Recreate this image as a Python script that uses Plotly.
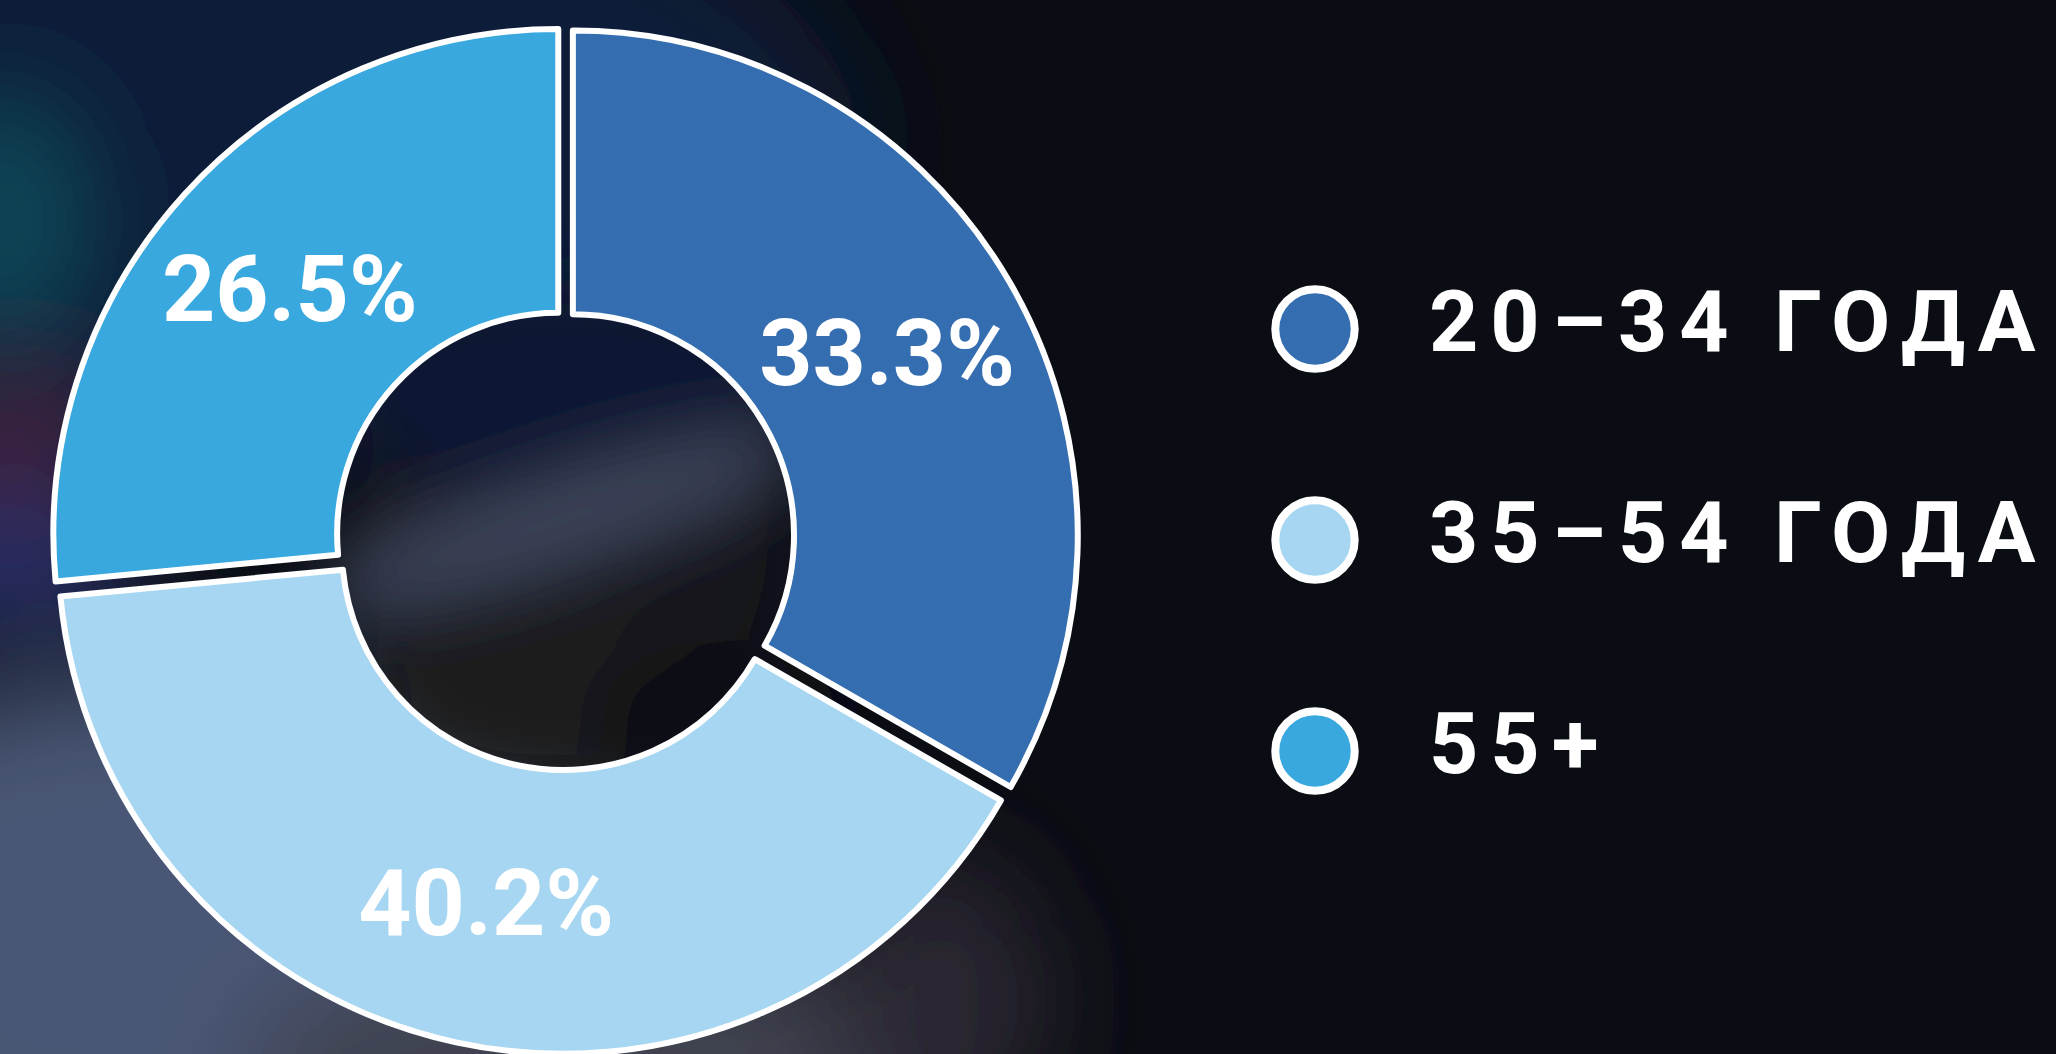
import base64
import plotly.graph_objects as go

# ---- data ----
categories = ["20–34 ГОДА", "35–54 ГОДА", "55+"]
shares = [33.3, 40.2, 26.5]

# ---- styles ----
colors = ["#356EB0", "#A6D6F2", "#38A8DF"]
W, H = 2056, 1054
BG = "#0a0d13"

def px(x):
    return x / W

def py(y):
    return 1 - y / H

# blurred backdrop (decorative)
svg = f"""<svg xmlns='http://www.w3.org/2000/svg' width='{W}' height='{H}' viewBox='0 0 {W} {H}'>
<defs>
<filter id='b' x='-60%' y='-60%' width='220%' height='220%'><feGaussianBlur stdDeviation='55'/></filter>
<filter id='c' x='-60%' y='-60%' width='220%' height='220%'><feGaussianBlur stdDeviation='35'/></filter>
</defs>
<rect width='{W}' height='{H}' fill='{BG}'/>
<g filter='url(#b)'>
<ellipse cx='300' cy='150' rx='560' ry='300' fill='#101a38'/>
<ellipse cx='0' cy='220' rx='80' ry='120' fill='#0f4a5a'/>
<ellipse cx='10' cy='450' rx='110' ry='70' fill='#3f2040'/>
<ellipse cx='10' cy='570' rx='140' ry='60' fill='#27336e'/>
<ellipse cx='180' cy='930' rx='480' ry='260' fill='#4a5774'/>
<ellipse cx='620' cy='1070' rx='380' ry='130' fill='#40434f'/>
<ellipse cx='940' cy='1000' rx='110' ry='150' fill='#2a2530'/>
</g>
<g filter='url(#c)'>
<circle cx='565' cy='544' r='225' fill='#17161d'/>
<ellipse cx='565' cy='390' rx='230' ry='110' fill='#0e1533'/>
<ellipse cx='560' cy='520' rx='260' ry='45' transform='rotate(-18 560 520)' fill='#3e445a'/>
<ellipse cx='560' cy='700' rx='190' ry='90' fill='#1f1a1b'/>
<ellipse cx='720' cy='720' rx='120' ry='80' fill='#0c0d12'/>
</g>
</svg>"""
bg_uri = "data:image/svg+xml;base64," + base64.b64encode(svg.encode("utf-8")).decode("ascii")

fig = go.Figure()

# donut geometry (pixels)
cx, cy, box = 565, 540, 1028
fig.add_trace(go.Pie(
    labels=categories,
    values=shares,
    sort=False,
    direction="clockwise",
    rotation=0,
    hole=0.438,
    pull=[0.018] * len(shares),
    marker=dict(colors=colors, line=dict(color="white", width=6)),
    texttemplate="%{value:.1f}%",
    textposition="inside",
    insidetextorientation="horizontal",
    textfont=dict(family="Roboto", size=93, color="white", weight="bold"),
    showlegend=False,
    hoverinfo="skip",
    domain=dict(x=[px(cx - box / 2), px(cx + box / 2)], y=[0, 1 - (cy - box / 2) / H]),
))

# custom legend: circles + tracked labels
leg_x, leg_y0, leg_dy, r_out, ring = 1315, 329, 211, 43.7, 8
shapes, annotations = [], []
for i, (lab, col) in enumerate(zip(categories, colors)):
    yc = leg_y0 + i * leg_dy
    rr = r_out - ring / 2
    shapes.append(dict(type="circle", xref="paper", yref="paper",
                       x0=px(leg_x - rr), x1=px(leg_x + rr),
                       y0=py(yc + rr), y1=py(yc - rr),
                       fillcolor=col, line=dict(color="white", width=ring)))
    annotations.append(dict(x=px(1427), y=py(yc - 8), xref="paper", yref="paper",
                            xanchor="left", yanchor="middle", showarrow=False,
                            text=f"<span style='letter-spacing:12px'>{lab}</span>",
                            font=dict(family="Roboto", size=86, color="white", weight="bold")))

fig.update_layout(
    width=W, height=H,
    margin=dict(l=0, r=0, t=0, b=0),
    paper_bgcolor=BG, plot_bgcolor=BG,
    images=[dict(source=bg_uri, xref="paper", yref="paper", x=0, y=1,
                 sizex=1, sizey=1, sizing="stretch", layer="below")],
    shapes=shapes,
    annotations=annotations,
    hovermode=False,
)

fig.write_html("out.html",
               config={"displayModeBar": False},
               post_script="document.body.style.margin='0';document.body.style.overflow='hidden';")
